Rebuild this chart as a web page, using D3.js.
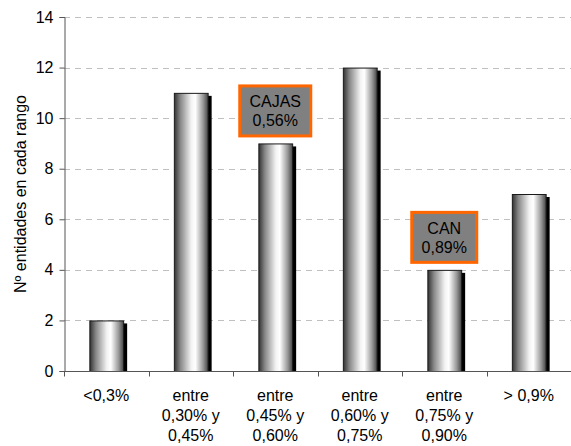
<!DOCTYPE html>
<html>
<head>
<meta charset="utf-8">
<script src="https://cdn.jsdelivr.net/npm/d3@7"></script>
<style>
  html, body { margin: 0; padding: 0; background: #fff; }
  svg { display: block; font-family: Arial, "Liberation Sans", sans-serif; }
</style>
</head>
<body>
<svg id="chart" width="571" height="446"></svg>
<script>
// Number of entities per range
const categories = [
  ["<0,3%"],
  ["entre", "0,30% y", "0,45%"],
  ["entre", "0,45% y", "0,60%"],
  ["entre", "0,60% y", "0,75%"],
  ["entre", "0,75% y", "0,90%"],
  ["> 0,9%"]
];
const counts = [2, 11, 9, 12, 4, 7];
const yTicks = [0, 2, 4, 6, 8, 10, 12, 14];
const yLabel = "Nº entidades en cada rango";

// Highlighted callouts: category index and text lines
const calloutIndex = [2, 4];
const calloutText = [["CAJAS", "0,56%"], ["CAN", "0,89%"]];

const svg = d3.select("#chart");
const margin = { top: 17, right: 0, bottom: 75, left: 64 };
const W = 571, H = 446;
const FONT = 16;

const x = d3.scaleBand()
  .domain(d3.range(categories.length))
  .range([margin.left, W - margin.right])
  .paddingInner(0.6)
  .paddingOuter(0.3);
const band = d3.scaleBand()
  .domain(d3.range(categories.length))
  .range([margin.left, W - margin.right]);
const y = d3.scaleLinear().domain([0, 14]).range([H - margin.bottom, margin.top]);

// Gradient for the cylinder-like bars
const defs = svg.append("defs");
const grad = defs.append("linearGradient").attr("id", "barGrad")
  .attr("x1", "0%").attr("x2", "100%").attr("y1", "0%").attr("y2", "0%");
[[0, "#333333"], [0.18, "#888888"], [0.5, "#f2f2f2"], [0.62, "#ffffff"], [0.85, "#999999"], [1, "#444444"]]
  .forEach(([o, c]) => grad.append("stop").attr("offset", o).attr("stop-color", c));

// Dashed gridlines
svg.append("g")
  .selectAll("line")
  .data(yTicks.filter(d => d > 0))
  .join("line")
  .attr("x1", margin.left).attr("x2", W)
  .attr("y1", d => Math.round(y(d)) + 0.5).attr("y2", d => Math.round(y(d)) + 0.5)
  .attr("stroke", "#c0c0c0")
  .attr("stroke-dasharray", "6,5");

// Bar shadows
svg.append("g")
  .selectAll("rect")
  .data(counts)
  .join("rect")
  .attr("x", (d, i) => x(i) + 4)
  .attr("y", d => y(d) + 3)
  .attr("width", x.bandwidth())
  .attr("height", d => y(0) - y(d) - 3)
  .attr("fill", "#000");

// Bars
svg.append("g")
  .selectAll("rect")
  .data(counts)
  .join("rect")
  .attr("x", (d, i) => x(i) + 0.5)
  .attr("y", d => y(d) + 0.5)
  .attr("width", x.bandwidth())
  .attr("height", d => y(0) - y(d))
  .attr("fill", "url(#barGrad)")
  .attr("stroke", "#1a1a1a")
  .attr("stroke-width", 1);

// Y axis
const yAxis = svg.append("g")
  .attr("transform", `translate(${margin.left + 0.5},0)`)
  .call(d3.axisLeft(y).tickValues(yTicks).tickSize(5).tickPadding(6));
yAxis.select(".domain").attr("stroke", "#555");
yAxis.selectAll(".tick line").attr("stroke", "#555");
yAxis.selectAll(".tick text").attr("font-size", FONT).attr("fill", "#000")
  .attr("font-family", "Arial, 'Liberation Sans', sans-serif");

// X axis
const xAxis = svg.append("g")
  .attr("transform", `translate(0,${y(0) + 0.5})`);
xAxis.append("line")
  .attr("x1", margin.left).attr("x2", W)
  .attr("stroke", "#555");
xAxis.selectAll("line.tk")
  .data(d3.range(categories.length + 1))
  .join("line")
  .attr("class", "tk")
  .attr("x1", i => Math.round(margin.left + i * band.step()) + 0.5)
  .attr("x2", i => Math.round(margin.left + i * band.step()) + 0.5)
  .attr("y1", 0).attr("y2", 5)
  .attr("stroke", "#555");

const labels = svg.append("g")
  .selectAll("text")
  .data(categories)
  .join("text")
  .attr("x", (d, i) => band(i) + band.bandwidth() / 2)
  .attr("y", y(0) + 30)
  .attr("text-anchor", "middle")
  .attr("font-size", FONT)
  .attr("fill", "#000");
labels.each(function(lines) {
  d3.select(this).selectAll("tspan")
    .data(lines)
    .join("tspan")
    .attr("x", d3.select(this).attr("x"))
    .attr("dy", (d, j) => j === 0 ? 0 : 20)
    .text(d => d);
});

// Y axis title
svg.append("text")
  .attr("transform", `translate(26,${(y(0) + y(14)) / 2}) rotate(-90)`)
  .attr("text-anchor", "middle")
  .attr("font-size", FONT)
  .attr("fill", "#000")
  .text(yLabel);

// Callout boxes above highlighted bars
const boxW = [74, 68], boxH = 53, gap = 6;
const callouts = svg.append("g")
  .selectAll("g")
  .data(calloutIndex)
  .join("g")
  .attr("transform", d => {
    const cx = x(d) + x.bandwidth() / 2;
    const top = y(counts[d]) - boxH - gap;
    return `translate(${cx},${top})`;
  });
callouts.append("rect")
  .attr("x", (d, k) => -boxW[k] / 2 + 1.5)
  .attr("y", 1.5)
  .attr("width", (d, k) => boxW[k] - 3)
  .attr("height", boxH - 3)
  .attr("fill", "#808080")
  .attr("stroke", "#ff6600")
  .attr("stroke-width", 3);
callouts.each(function(d, k) {
  d3.select(this).selectAll("text")
    .data(calloutText[k])
    .join("text")
    .attr("x", 0)
    .attr("y", (t, j) => 23 + j * 19)
    .attr("text-anchor", "middle")
    .attr("font-size", 16)
    .attr("fill", "#000")
    .text(t => t);
});
</script>
</body>
</html>
